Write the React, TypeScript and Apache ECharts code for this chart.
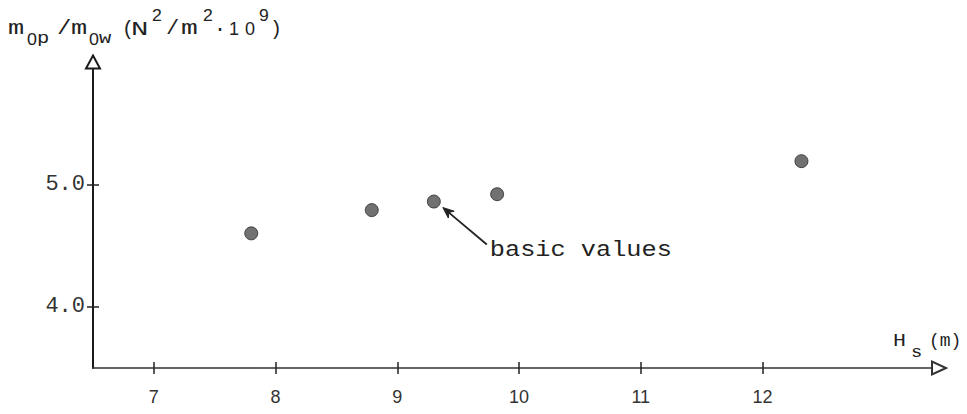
import React, { useEffect, useRef } from "react";
import * as echarts from "echarts";

// Significant wave height H_s (m) and the spectral moment ratio m0p/m0w
const waveHeights = [7.8, 8.79, 9.3, 9.82, 12.32];
const momentRatios = [4.6, 4.79, 4.86, 4.92, 5.19];
const basicIndex = 2;

const xTickValues = [7, 8, 9, 10, 11, 12];
const yTickValues = [4, 5];

const X_MIN = 6.5;
const X_MAX = 13.45;
const Y_MIN = 3.5;
const Y_MAX = 6.0;

const INK = "#222";
const MONO = "Liberation Mono, DejaVu Sans Mono, monospace";
const SANS = "Liberation Sans, Arial, sans-serif";

type Seg = { t: string; x: number; y: number; size: number; sx?: number; sans?: boolean };

// y-axis title: m_0p / m_0w (N^2/m^2 · 10^9)
const yTitleSegs: Seg[] = [
  { t: "m", x: 8, y: 29, size: 20, sx: 1.35 },
  { t: "0", x: 27, y: 39, size: 17, sx: 1.05, sans: true },
  { t: "p", x: 37, y: 38, size: 17, sx: 1.2 },
  { t: "/", x: 57, y: 29, size: 20, sx: 1.2 },
  { t: "m", x: 71, y: 29, size: 20, sx: 1.35 },
  { t: "0", x: 89, y: 39, size: 17, sx: 1.05, sans: true },
  { t: "w", x: 99, y: 38, size: 17, sx: 1.2 },
  { t: "(", x: 122, y: 29, size: 20, sx: 1.0 },
  { t: "N", x: 131, y: 29, size: 20, sx: 1.45 },
  { t: "2", x: 152, y: 16, size: 16, sx: 1.1, sans: true },
  { t: "/", x: 166, y: 29, size: 20, sx: 1.1 },
  { t: "m", x: 181, y: 29, size: 20, sx: 1.4 },
  { t: "2", x: 203, y: 16, size: 16, sx: 1.1, sans: true },
  { t: "\u00b7", x: 214, y: 29, size: 20, sx: 1.0 },
  { t: "1", x: 229, y: 29, size: 18, sx: 1.0, sans: true },
  { t: "0", x: 245, y: 29, size: 18, sx: 1.0, sans: true },
  { t: "9", x: 259, y: 16, size: 16, sx: 1.1, sans: true },
  { t: ")", x: 270, y: 29, size: 20, sx: 1.0 },
];

// x-axis title: H_s (m)
const xTitleSegs: Seg[] = [
  { t: "H", x: 893, y: 341, size: 18, sx: 1.2 },
  { t: "s", x: 911, y: 352, size: 17, sx: 1.1 },
  { t: "(m)", x: 929, y: 341, size: 18, sx: 1.0 },
];

function segText(s: Seg, id: string) {
  return {
    type: "text",
    id,
    x: s.x,
    y: s.y,
    scaleX: s.sx ?? 1,
    silent: true,
    style: {
      text: s.t,
      fontFamily: s.sans ? SANS : MONO,
      fontSize: s.size,
      fill: INK,
      align: "left",
      verticalAlign: "middle",
    },
  };
}

export default function App() {
  const ref = useRef<HTMLDivElement>(null);

  useEffect(() => {
    if (!ref.current) return;
    const chart = echarts.init(ref.current, null, { renderer: "svg" });

    const tickStyle = { color: INK, width: 1.5 };

    chart.setOption({
      animation: false,
      backgroundColor: "#fff",
      grid: { left: 93, right: 28, top: 62, bottom: 46, containLabel: false },
      xAxis: [
        {
          type: "value",
          min: X_MIN,
          max: X_MAX,
          position: "bottom",
          axisLine: {
            show: true,
            onZero: false,
            symbol: ["none", "emptyTriangle"],
            symbolSize: [13, 14],
            lineStyle: { color: "#333", width: 1.6 },
          },
          axisTick: { show: true, length: 6, customValues: xTickValues, lineStyle: tickStyle },
          axisLabel: {
            customValues: xTickValues,
            margin: 20,
            fontFamily: SANS,
            fontSize: 18,
            color: "#333",
          },
          splitLine: { show: false },
        },
        {
          type: "value",
          min: X_MIN,
          max: X_MAX,
          position: "bottom",
          axisLine: { show: false, onZero: false },
          axisTick: { show: true, inside: true, length: 6, customValues: xTickValues, lineStyle: tickStyle },
          axisLabel: { show: false },
          splitLine: { show: false },
        },
      ],
      yAxis: [
        {
          type: "value",
          min: Y_MIN,
          max: Y_MAX,
          position: "left",
          axisLine: {
            show: true,
            onZero: false,
            symbol: ["none", "emptyTriangle"],
            symbolSize: [14, 13],
            lineStyle: { color: "#1a1a1a", width: 2 },
          },
          axisTick: { show: true, length: 6, customValues: yTickValues, lineStyle: tickStyle },
          axisLabel: {
            customValues: yTickValues,
            margin: 8,
            fontFamily: MONO,
            fontSize: 22,
            color: "#333",
            formatter: (v: number) => v.toFixed(1),
          },
          splitLine: { show: false },
        },
        {
          type: "value",
          min: Y_MIN,
          max: Y_MAX,
          position: "left",
          axisLine: { show: false, onZero: false },
          axisTick: { show: true, inside: true, length: 6, customValues: yTickValues, lineStyle: tickStyle },
          axisLabel: { show: false },
          splitLine: { show: false },
        },
      ],
      series: [
        {
          type: "scatter",
          xAxisIndex: 0,
          yAxisIndex: 0,
          symbol: "circle",
          symbolSize: 13,
          silent: true,
          itemStyle: { color: "#4d4d4d", borderColor: "#2a2a2a", borderWidth: 1 },
          data: waveHeights.map((h, i) => [h, momentRatios[i]]),
        },
      ],
    });

    // annotation arrow pointing at the basic-values point
    const [px, py] = chart.convertToPixel({ gridIndex: 0 }, [
      waveHeights[basicIndex],
      momentRatios[basicIndex],
    ]) as number[];
    const tip = [px + 9, py + 6];
    const tail = [px + 53, py + 43];
    const dx = tail[0] - tip[0];
    const dy = tail[1] - tip[1];
    const len = Math.hypot(dx, dy);
    const ux = dx / len;
    const uy = dy / len;
    const headLen = 11;
    const headHalf = 4.5;
    const bx = tip[0] + ux * headLen;
    const by = tip[1] + uy * headLen;
    const head = [
      tip,
      [bx - uy * headHalf, by + ux * headHalf],
      [tip[0] + ux * headLen * 0.7, tip[1] + uy * headLen * 0.7],
      [bx + uy * headHalf, by - ux * headHalf],
    ];

    chart.setOption({
      graphic: [
        ...yTitleSegs.map((s, i) => segText(s, "yt" + i)),
        ...xTitleSegs.map((s, i) => segText(s, "xt" + i)),
        {
          type: "line",
          id: "arrowShaft",
          silent: true,
          shape: { x1: tail[0], y1: tail[1], x2: tip[0] + ux * 4, y2: tip[1] + uy * 4 },
          style: { stroke: INK, lineWidth: 1.8 },
        },
        {
          type: "polygon",
          id: "arrowHead",
          silent: true,
          shape: { points: head },
          style: { fill: INK, stroke: INK, lineWidth: 1 },
        },
        {
          type: "text",
          id: "basicLabel",
          x: px + 56,
          y: py + 48.5,
          scaleX: 1.15,
          silent: true,
          style: {
            text: "basic values",
            fontFamily: MONO,
            fontSize: 22,
            fill: INK,
            align: "left",
            verticalAlign: "middle",
          },
        },
      ],
    });

    return () => chart.dispose();
  }, []);

  return (
    <div
      ref={ref}
      style={{ position: "fixed", left: 0, top: 0, width: 967, height: 414, background: "#fff" }}
    />
  );
}
